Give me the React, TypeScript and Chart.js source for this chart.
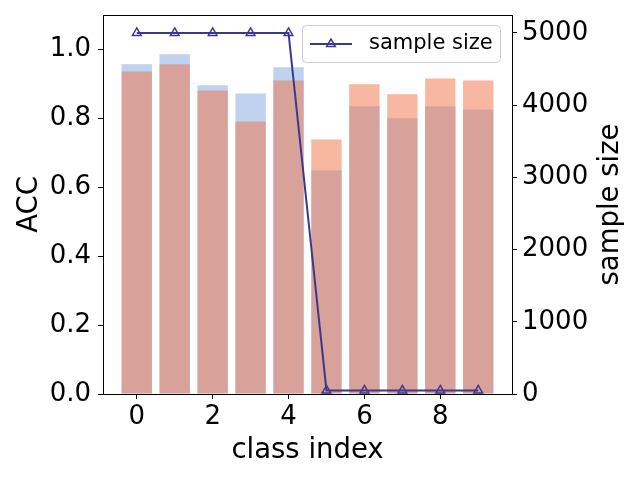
import React, { useEffect, useRef } from "react";
import { Chart, registerables } from "chart.js";

Chart.register(...registerables);

// ---- data ----
const classIndex = [0, 1, 2, 3, 4, 5, 6, 7, 8, 9];
const accBlue = [0.957, 0.986, 0.896, 0.872, 0.948, 0.649, 0.835, 0.8, 0.835, 0.826];
const accSalmon = [0.936, 0.957, 0.881, 0.791, 0.91, 0.739, 0.899, 0.87, 0.916, 0.91];
const sampleSize = [5000, 5000, 5000, 5000, 5000, 50, 50, 50, 50, 50];
const xTicks = [0, 2, 4, 6, 8];
const accTicks = [0, 0.2, 0.4, 0.6, 0.8, 1.0];
const sizeTicks = [0, 1000, 2000, 3000, 4000, 5000];
const lineLabel = "sample size";
const rightTitle = "sample size";

const FONT = "'DejaVu Sans', sans-serif";
const lineColor = "rgb(60,56,142)";

const framePlugin = {
  id: "frameAndLegend",
  afterDraw(chart: any) {
    const { ctx, chartArea } = chart;
    ctx.save();
    // frame
    ctx.strokeStyle = "#000";
    ctx.lineWidth = 1;
    ctx.strokeRect(
      Math.round(chartArea.left) + 0.5,
      Math.round(chartArea.top) + 0.5,
      Math.round(chartArea.right - chartArea.left),
      Math.round(chartArea.bottom - chartArea.top)
    );
    // right axis title (reads bottom-to-top)
    ctx.save();
    ctx.translate(chart.width - 29, (chartArea.top + chartArea.bottom) / 2);
    ctx.rotate(-Math.PI / 2);
    ctx.fillStyle = "#000";
    ctx.font = `27.5px ${FONT}`;
    ctx.textAlign = "center";
    ctx.textBaseline = "middle";
    ctx.fillText(rightTitle, 0, 0);
    ctx.restore();
    // legend
    const w = 198;
    const h = 37;
    const x = Math.round(chartArea.right) - 12 - w;
    const y = Math.round(chartArea.top) + 10;
    ctx.beginPath();
    ctx.roundRect(x + 0.5, y + 0.5, w, h, 4);
    ctx.fillStyle = "rgba(255,255,255,0.8)";
    ctx.fill();
    ctx.strokeStyle = "#cccccc";
    ctx.lineWidth = 1;
    ctx.stroke();
    const cy = y + h / 2 + 0.5;
    ctx.beginPath();
    ctx.moveTo(x + 8, cy);
    ctx.lineTo(x + 50, cy);
    ctx.strokeStyle = lineColor;
    ctx.lineWidth = 2;
    ctx.stroke();
    const px = x + 29;
    const r = 5;
    ctx.beginPath();
    let rad = 0;
    ctx.moveTo(px + Math.sin(rad) * r, cy - Math.cos(rad) * r);
    rad += (2 * Math.PI) / 3;
    ctx.lineTo(px + Math.sin(rad) * r, cy - Math.cos(rad) * r);
    rad += (2 * Math.PI) / 3;
    ctx.lineTo(px + Math.sin(rad) * r, cy - Math.cos(rad) * r);
    ctx.closePath();
    ctx.lineWidth = 1.5;
    ctx.stroke();
    ctx.fillStyle = "#000";
    ctx.font = `21px ${FONT}`;
    ctx.textBaseline = "middle";
    ctx.textAlign = "left";
    ctx.fillText(lineLabel, x + 67, cy);
    ctx.restore();
  },
};

export default function App() {
  const ref = useRef<HTMLCanvasElement | null>(null);

  useEffect(() => {
    if (!ref.current) return;
    const tickFont = { family: FONT, size: 26 };
    const titleFont = { family: FONT, size: 27.5 };
    const zeroPad = (scale: any) => {
      scale.paddingTop = 0;
      scale.paddingBottom = 0;
      scale.paddingLeft = 0;
      scale.paddingRight = 0;
    };
    const chart = new Chart(ref.current, {
      type: "bar",
      data: {
        datasets: [
          {
            type: "line",
            label: lineLabel,
            data: classIndex.map((x, i) => ({ x, y: sampleSize[i] })),
            yAxisID: "y1",
            borderColor: lineColor,
            borderWidth: 2,
            pointStyle: "triangle",
            pointRadius: 5,
            pointBorderWidth: 1.5,
            pointBorderColor: lineColor,
            pointBackgroundColor: "rgba(0,0,0,0)",
            tension: 0,
            order: 0,
          } as any,
          {
            type: "bar",
            label: "acc 2",
            data: classIndex.map((x, i) => ({ x, y: accSalmon[i] })),
            yAxisID: "y",
            backgroundColor: "rgba(241,111,65,0.5)",
            borderWidth: 0,
            grouped: false,
            categoryPercentage: 1,
            barPercentage: 0.8,
            order: 1,
          },
          {
            type: "bar",
            label: "acc 1",
            data: classIndex.map((x, i) => ({ x, y: accBlue[i] })),
            yAxisID: "y",
            backgroundColor: "rgb(191,210,240)",
            borderWidth: 0,
            grouped: false,
            categoryPercentage: 1,
            barPercentage: 0.8,
            order: 2,
          },
        ],
      },
      options: {
        animation: false,
        responsive: false,
        layout: { padding: { top: 15, left: 0, right: 0, bottom: 0 } },
        plugins: {
          legend: { display: false },
          tooltip: { enabled: false },
        },
        scales: {
          x: {
            type: "linear",
            min: -0.89,
            max: 9.89,
            offset: false,
            border: { display: false },
            grid: {
              offset: false,
              drawOnChartArea: false,
              drawTicks: true,
              tickLength: 5,
              color: "#000",
            },
            afterBuildTicks: (scale: any) => {
              scale.ticks = xTicks.map((v) => ({ value: v }));
            },
            afterFit: (scale: any) => {
              scale.height = 86;
              zeroPad(scale);
            },
            ticks: {
              font: tickFont,
              color: "#000",
              padding: 3,
              maxRotation: 0,
              autoSkip: false,
              callback: (v: any) => String(v),
            },
            title: {
              display: true,
              text: "class index",
              font: titleFont,
              color: "#000",
              padding: { top: 0, bottom: 13 },
            },
          },
          y: {
            type: "linear",
            position: "left",
            min: 0,
            max: 1.1,
            border: { display: false },
            grid: {
              drawOnChartArea: false,
              drawTicks: true,
              tickLength: 5,
              color: "#000",
            },
            afterBuildTicks: (scale: any) => {
              scale.ticks = accTicks.map((v) => ({ value: v }));
            },
            afterFit: (scale: any) => {
              scale.width = 103;
              zeroPad(scale);
            },
            ticks: {
              font: tickFont,
              color: "#000",
              padding: 7,
              autoSkip: false,
              callback: (v: any) => Number(v).toFixed(1),
            },
            title: {
              display: true,
              text: "ACC",
              font: titleFont,
              color: "#000",
              padding: { top: 13, bottom: 0 },
            },
          },
          y1: {
            type: "linear",
            position: "right",
            min: 0,
            max: 5247.5,
            border: { display: false },
            grid: {
              drawOnChartArea: false,
              drawTicks: true,
              tickLength: 5,
              color: "#000",
            },
            afterBuildTicks: (scale: any) => {
              scale.ticks = sizeTicks.map((v) => ({ value: v }));
            },
            afterFit: (scale: any) => {
              scale.width = 128;
              zeroPad(scale);
            },
            ticks: {
              font: tickFont,
              color: "#000",
              padding: 5,
              autoSkip: false,
              callback: (v: any) => String(v),
            },
            title: { display: false },
          },
        },
      },
      plugins: [framePlugin],
    });
    return () => chart.destroy();
  }, []);

  return (
    <div style={{ position: "fixed", left: 0, top: 0, width: 640, height: 480, background: "#fff" }}>
      <canvas ref={ref} width={640} height={480} style={{ display: "block" }} />
    </div>
  );
}
